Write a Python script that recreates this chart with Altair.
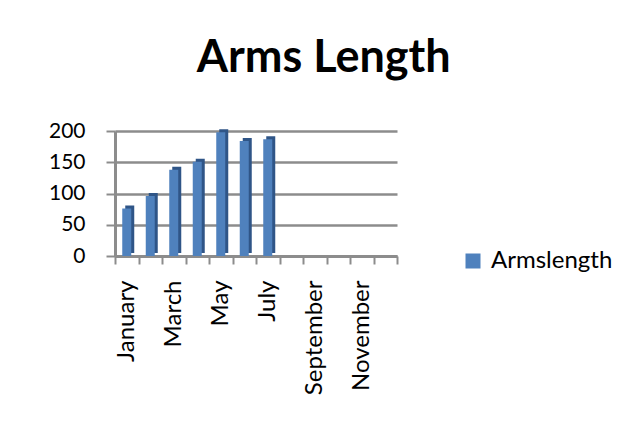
import altair as alt
import pandas as pd

months = ["January", "February", "March", "April", "May", "June", "July",
          "August", "September", "October", "November", "December"]
values = [76, 96, 138, 151, 198, 184, 187, None, None, None, None, None]
series = "Armslength"
shown_labels = ["January", "March", "May", "July", "September", "November"]

df = pd.DataFrame({"month": months, "value": values, "series": [series] * len(months)})

FONT = "Lato"
label_expr = "indexof(" + str(shown_labels) + ", datum.value) >= 0 ? datum.label : ''"

x_enc = alt.X("month:N", sort=months, title=None,
              scale=alt.Scale(paddingInner=0, paddingOuter=0),
              axis=alt.Axis(labelAngle=-90, labelAlign="right", labelBaseline="middle",
                            labelExpr=label_expr, labelFontSize=24, labelFont=FONT,
                            labelColor="#000000", labelPadding=16,
                            tickBand="extent", tickSize=8, tickColor="#8c8c8c", tickWidth=2,
                            domainColor="#8c8c8c", domainWidth=3, grid=False))
y_enc = alt.Y("value:Q", title=None,
              scale=alt.Scale(domain=[0, 200], nice=False),
              axis=alt.Axis(values=[0, 50, 100, 150, 200], labelFontSize=21, labelFont=FONT,
                            labelColor="#000000", labelPadding=21, tickSize=9,
                            tickColor="#8c8c8c", tickWidth=2, domainColor="#8c8c8c",
                            domainWidth=3, grid=True, gridColor="#8c8c8c", gridWidth=2.5))

base = alt.Chart(df)

side = base.mark_bar(size=9, color="#2f5587", xOffset=3, yOffset=-3).encode(
    x=x_enc, y=y_enc)

front = base.mark_bar(size=9).encode(
    x=x_enc, y=y_enc,
    color=alt.Color("series:N", title=None,
                    scale=alt.Scale(domain=[series], range=["#4F81BD"]),
                    legend=alt.Legend(orient="none", legendX=346, legendY=118,
                                      symbolType="square", symbolSize=225,
                                      symbolStrokeWidth=0, labelFontSize=24,
                                      labelFont=FONT, labelColor="#000000",
                                      labelOffset=6)))

chart = alt.layer(side, front).properties(
    width=282, height=125,
    padding={"left": 40, "top": 28, "right": 5, "bottom": 5},
    title=alt.TitleParams("Arms Length", fontSize=45, font=FONT, fontWeight="bold",
                          color="#000000", anchor="middle", frame="bounds", offset=39,
                          dx=-7),
    background="white",
).configure_view(stroke=None)

chart.save("out.html", embed_options={"renderer": "svg", "actions": False})
